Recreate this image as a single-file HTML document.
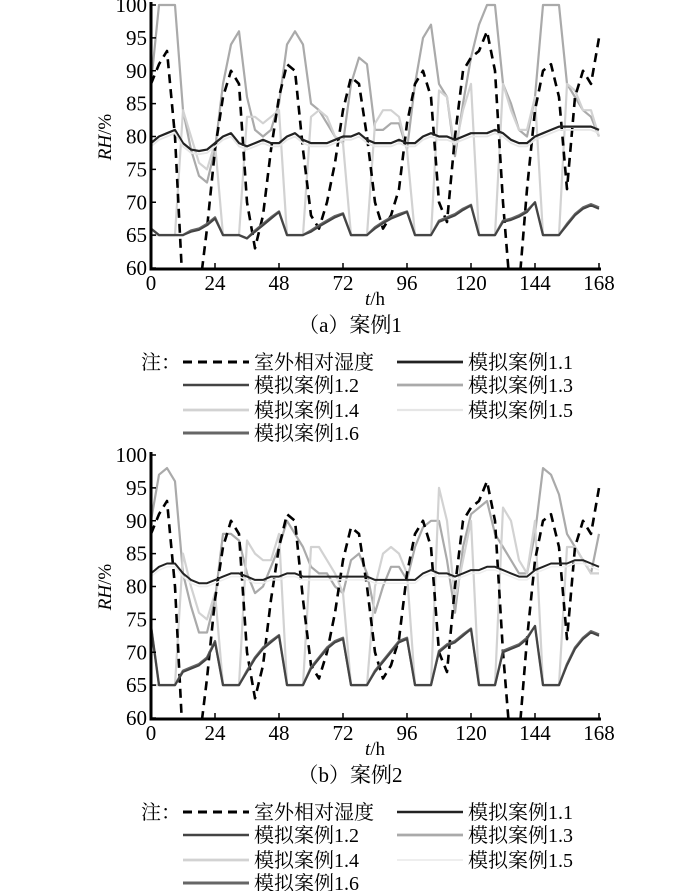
<!DOCTYPE html>
<html><head><meta charset="utf-8"><style>
body{margin:0;background:#fff;width:700px;height:891px;overflow:hidden}
svg{display:block;font-family:"Liberation Serif","Noto Serif CJK SC",serif}
</style></head><body>
<svg id="c" width="700" height="891"></svg>
<script>
const times=[0,3,6,9,12,15,18,21,24,27,30,33,36,39,42,45,48,51,54,57,60,63,66,69,72,75,78,81,84,87,90,93,96,99,102,105,108,111,114,117,120,123,126,129,132,135,138,141,144,147,150,153,156,159,162,165,168];
const xTicks=[0,24,48,72,96,120,144,168];
const yTicks=[60,65,70,75,80,85,90,95,100];
const outdoor=[88,91,93,80,56,52,56,66,78,86,90,88,70,63,68,78,86,91,90,78,68,66,70,76,84,89,88,80,70,66,68,72,82,88,90,86,70,67,80,90,92,93,96,90,70,55,57,72,84,90,91,86,72,86,90,88,95];
const a11=[79,80,80.5,81,79,78,77.8,78,79,80,80.5,79,78.5,79,79.5,79,79,80,80.5,79.5,79,79,79,79.5,80,80,80.5,79.5,79,79,79,79.5,79,79,80,80.5,80,80,79.5,80,80.5,80.5,80.5,81,80.5,79.5,79,79,80,80.5,81,81.5,81.5,81.5,81.5,81.5,81];
const a12=[66,65,65,65,65,65.5,65.8,66.5,67.5,65,65,65,64.5,65.5,66.5,67.5,68.5,65,65,65,65.5,66.3,67,67.7,68.2,65,65,65,66,66.8,67.5,68,68.5,65,65,65,67,67.5,68,68.8,69.5,65,65,65,67,67.3,67.8,68.5,70,65,65,65,66.5,68,69,69.5,69];
const a13=[88,100,100,100,84,78,74,73,78,88,94,96,86,81,80,81,85,94,96,94,85,84,82,80,79,88,92,91,81,81,82,82,78,88,95,97,88,86,77,85,92,97,100,100,88,85,81,80,86,100,100,100,88,86,84,83,80];
const a14=[65,65,65,65,84,80,76,75,79,65,65,65,83,83,82,83,84,65,65,65,83,84,83,80,79,65,65,65,82,84,84,83,78,65,65,65,87,86,78,84,88,65,65,65,88,84,81,81,86,65,65,65,88,87,84,84,80];
const a15=[78.5,79.5,80,80.5,78.5,77.5,77.3,77.5,78.5,79.5,80,78.5,78,78.5,79,78.5,78.5,79.5,80,79,78.5,78.5,78.5,79,79.5,79.5,80,79,78.5,78.5,78.5,79,78.5,78.5,79.5,80,79.5,79.5,79,79.5,80,80,80,80.5,80,79,78.5,78.5,79.5,80,80.5,81,81,81,81,81,80.5];
const a16=[66,65,65,65,65,65.7,66,66.7,67.7,65,65,65,64.5,65.7,66.7,67.7,68.6,65,65,65,65.7,66.5,67.2,67.9,68.3,65,65,65,66.2,67,67.7,68.2,68.6,65,65,65,67.2,67.7,68.2,69,69.6,65,65,65,67.2,67.5,68,68.7,70,65,65,65,66.7,68.2,69.2,69.7,69.2];
const b11=[82,83,83.5,83.5,82,81,80.5,80.5,81,81.5,82,82,81.5,81,81,81.5,81.5,82,82,81.5,81.5,81.5,81.5,81.5,81.5,81.5,81.5,81.5,81,81,81,81,81,81,82,82.5,82,82,81.5,82,82.5,82.5,83,83,82.5,82,81.5,81.5,82.5,83,83.5,83.5,83.5,84,84,83.5,83];
const b12=[74,65,65,65,67,67.5,68,69,71.5,65,65,65,67,69,70.5,71.5,72.5,65,65,65,67.5,69,70.5,71.5,72,65,65,65,67,68.5,70,71.5,72,65,65,65,70,71,71.5,72.5,73.5,65,65,65,70,70.5,71,72,74,65,65,65,68,70.5,72,73,72.5];
const b13=[90,97,98,96,82,77,73,73,78,88,88,87,82,79,80,83,86,90,88,86,83,82,82,80,79,84,85,82,76,80,83,83,81,86,89,90,90,84,76,86,91,92,93,88,86,84,82,82,88,98,97,94,88,86,84,82,88];
const b14=[65,65,65,65,85,80,76,75,79,65,65,65,87,85,84,84,88,65,65,65,86,86,84,82,79,65,65,65,80,85,86,85,82,65,65,65,95,90,78,84,90,65,65,65,92,90,84,82,90,65,65,65,86,86,84,82,82];
const b15=[81.5,82.5,83,83,81.5,80.5,80,80,80.5,81,81.5,81.5,81,80.5,80.5,81,81,81.5,81.5,81,81,81,81,81,81,81,81,81,80.5,80.5,80.5,80.5,80.5,80.5,81.5,82,81.5,81.5,81,81.5,82,82,82.5,82.5,82,81.5,81,81,82,82.5,83,83,83,83.5,83.5,83,82.5];
const b16=[74,65,65,65,67.2,67.7,68.2,69.2,71.7,65,65,65,67.2,69.2,70.7,71.7,72.6,65,65,65,67.7,69.2,70.7,71.7,72.2,65,65,65,67.2,68.7,70.2,71.7,72.2,65,65,65,70.2,71.2,71.7,72.7,73.6,65,65,65,70.2,70.7,71.2,72.2,74,65,65,65,68.2,70.7,72.2,73.2,72.7];

const NS='http://www.w3.org/2000/svg';
const svg=document.getElementById('c');
function mk(tag,attrs,parent){const e=document.createElementNS(NS,tag);for(const k in attrs)e.setAttribute(k,attrs[k]);(parent||svg).appendChild(e);return e;}
const X0=151,X1=599;
const xs=t=>X0+(t/168)*(X1-X0);

function chart(oy,series,id,cap){
  const g=mk('g',{});
  
  
  const Y100=5+oy,Y60=268+oy;
  const ys=v=>Y60-(v-60)/40*(Y60-Y100);
  const cp=mk('clipPath',{id:'clip-'+id},g);
  mk('rect',{x:X0,y:Y100-2,width:X1-X0+3,height:Y60-Y100+2},cp);
  const pg=mk('g',{'clip-path':'url(#clip-'+id+')'},g);
  series.forEach(s=>{
    const p=mk('polyline',{points:s.d.map((v,i)=>xs(times[i]).toFixed(1)+','+ys(v).toFixed(1)).join(' '),fill:'none',stroke:s.c,'stroke-width':s.w,'stroke-dasharray':s.dash||'none','stroke-linejoin':'round'},pg);
    
    
  });
  const ax=mk('path',{d:`M${X0},${Y100-3}V${Y60+1}H${X1+2}`,fill:'none',stroke:'#000','stroke-width':3},g);
  
  
  yTicks.forEach(v=>{
    mk('line',{x1:X0,x2:X0+5,y1:ys(v),y2:ys(v),stroke:'#000','stroke-width':1.5},g);
    const t=mk('text',{x:X0-4,y:ys(v)+7,'text-anchor':'end','font-size':21},g);t.textContent=v;
    
    
  });
  xTicks.forEach(v=>{
    mk('line',{x1:xs(v),x2:xs(v),y1:Y60,y2:Y60-5,stroke:'#000','stroke-width':1.5},g);
    const t=mk('text',{x:xs(v),y:Y60+22,'text-anchor':'middle','font-size':21},g);t.textContent=v;
    
    
  });
  const yt=mk('text',{transform:`translate(111,${oy+137}) rotate(-90)`,'text-anchor':'middle','font-size':19},g);
  yt.innerHTML='<tspan font-style="italic">RH</tspan>/%';
  
  
  const xt=mk('text',{x:375,y:Y60+37,'text-anchor':'middle','font-size':19},g);
  xt.innerHTML='<tspan font-style="italic">t</tspan>/h';
  
  
  const ct=mk('text',{x:350,y:Y60+64,'text-anchor':'middle','font-size':21},g);
  ct.textContent=cap;
  
  
  const L=Y60+94;
  const n=mk('text',{x:141,y:L+7,'font-size':20},g);n.textContent='注：';
  
  
  const pos=[[183,L],[397,L],[183,L+23],[397,L+23],[183,L+48],[397,L+48],[183,L+71]];
  const labels=['室外相对湿度','模拟案例1.1','模拟案例1.2','模拟案例1.3','模拟案例1.4','模拟案例1.5','模拟案例1.6'];
  [0,1,2,3,4,5,6].forEach(i=>{
    const s=series.find(q=>q.k===i);
    const [lx,ly]=pos[i];
    const e=mk('g',{},g);
    
    
    mk('line',{x1:lx,x2:lx+66,y1:ly,y2:ly,stroke:s.c,'stroke-width':s.w+0.5,'stroke-dasharray':s.dash||'none'},e);
    const t=mk('text',{x:lx+71,y:ly+7,'font-size':20},e);t.textContent=labels[i];
  });
}
chart(0,[
  {k:3,n:'case-1-3',d:a13,c:'#aaaaaa',w:2.2},
  {k:4,n:'case-1-4',d:a14,c:'#d2d2d2',w:2.2},
  {k:0,n:'outdoor',d:outdoor,c:'#000',w:2.6,dash:'9,6'},
  {k:1,n:'case-1-1',d:a11,c:'#222',w:2.2},
  {k:5,n:'case-1-5',d:a15,c:'#e6e6e6',w:1.8},
  {k:6,n:'case-1-6',d:a16,c:'#666',w:2.4},
  {k:2,n:'case-1-2',d:a12,c:'#444',w:2}
],'case1','（a）案例1');
chart(450,[
  {k:3,n:'case-1-3',d:b13,c:'#aaaaaa',w:2.2},
  {k:4,n:'case-1-4',d:b14,c:'#d2d2d2',w:2.2},
  {k:0,n:'outdoor',d:outdoor,c:'#000',w:2.6,dash:'9,6'},
  {k:1,n:'case-1-1',d:b11,c:'#222',w:2},
  {k:5,n:'case-1-5',d:b15,c:'#eeeeee',w:1.5},
  {k:6,n:'case-1-6',d:b16,c:'#666',w:2.4},
  {k:2,n:'case-1-2',d:b12,c:'#444',w:2}
],'case2','（b）案例2');
</script>
</body></html>
